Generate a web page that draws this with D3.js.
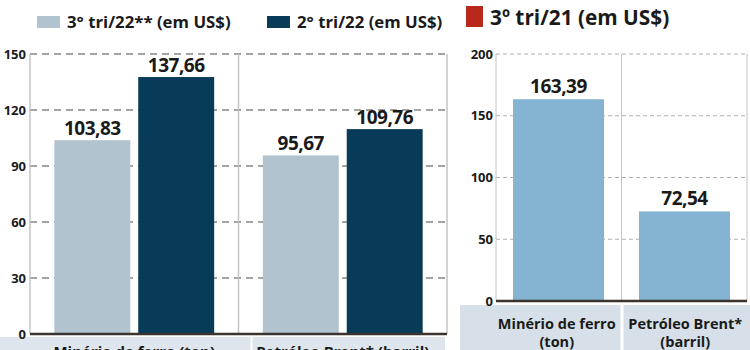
<!DOCTYPE html>
<html><head><meta charset="utf-8">
<script src="https://cdn.jsdelivr.net/npm/d3@7"></script>
<style>body{margin:0;background:#fff}svg{display:block}text{font-family:"Open Sans",sans-serif;font-weight:700;fill:#1a1a1a}</style>
</head><body><svg id="c" width="750" height="350"></svg>
<script>
// ---- data ----
const categories = ["Minério de ferro (ton)", "Petróleo Brent* (barril)"];
const seriesNames = ["3° tri/22** (em US$)", "2° tri/22 (em US$)"];
const q3_22 = [103.83, 95.67];
const q2_22 = [137.66, 109.76];
const leftTicks = [0, 30, 60, 90, 120, 150];

const rightSeriesName = "3º tri/21 (em US$)";
const rightCategories = [["Minério de ferro", "(ton)"], ["Petróleo Brent*", "(barril)"]];
const q3_21 = [163.39, 72.54];
const rightTicks = [0, 50, 100, 150, 200];

const colLight = "#b1c3ce", colDark = "#083b57", colRight = "#84b4d1", colRed = "#b8291b";
const fmt = d3.formatLocale({decimal: ",", thousands: ".", grouping: [3], currency: ["", ""]}).format(".2f");

const svg = d3.select("#c");

// ---- LEFT CHART ----
(function () {
  const L = 30, R = 447, T = 54, B = 334;
  const y = d3.scaleLinear().domain([0, 150]).range([B, T]);
  const x0 = d3.scaleBand().domain(categories).range([L, R]).padding(0);
  const x1 = d3.scaleBand().domain([0, 1]).range([0, x0.bandwidth()]).paddingInner(0.095).paddingOuter(0.29);

  // legend
  const lg = svg.append("g");
  const legX = [37, 267];
  seriesNames.forEach((s, i) => {
    lg.append("rect").attr("x", legX[i]).attr("y", 16).attr("width", 23).attr("height", 12)
      .attr("fill", i === 0 ? colLight : colDark);
    lg.append("text").attr("x", legX[i] + 30).attr("y", 27.5).attr("font-size", 16.8).text(s);
  });

  // category label band
  categories.forEach((c, i) => {
    const bx = i === 0 ? 0 : x0(c) + 14;
    const bw = i === 0 ? x0(c) + x0.bandwidth() + 12 : x0.bandwidth() - 16;
    svg.append("rect").attr("x", bx).attr("y", 337).attr("width", bw).attr("height", 13).attr("fill", "#dfe5ec");
    svg.append("text").attr("x", x0(c) + x0.bandwidth() / 2).attr("y", 357).attr("text-anchor", "middle")
      .attr("font-size", 15).text(c);
  });

  // grid
  svg.append("g").selectAll("line").data(leftTicks.filter(d => d > 0)).join("line")
    .attr("x1", L).attr("x2", R).attr("y1", d => y(d)).attr("y2", d => y(d))
    .attr("stroke", "#a3a3a3").attr("stroke-width", 2).attr("stroke-dasharray", "7,5");
  // vertical separators
  const seps = [L].concat(categories.map(c => x0(c) + x0.bandwidth()));
  svg.append("g").selectAll("line").data(seps).join("line")
    .attr("x1", d => d).attr("x2", d => d).attr("y1", T).attr("y2", B)
    .attr("stroke", "#c4c4c4").attr("stroke-width", 1.5);

  // y axis
  const ya = svg.append("g").attr("transform", `translate(${L - 4},0)`)
    .call(d3.axisLeft(y).tickValues(leftTicks).tickSize(0).tickPadding(0));
  ya.select(".domain").remove();
  ya.selectAll("text").attr("font-size", 13).attr("font-family", "'Open Sans',sans-serif").attr("font-weight", 700).attr("fill", "#1a1a1a");

  // bars
  const data = categories.map((c, i) => ({c, v: [q3_22[i], q2_22[i]]}));
  const g = svg.append("g").selectAll("g").data(data).join("g").attr("transform", d => `translate(${x0(d.c)},0)`);
  g.selectAll("rect").data(d => d.v.map((v, k) => ({v, k}))).join("rect")
    .attr("x", d => x1(d.k)).attr("width", x1.bandwidth())
    .attr("y", d => y(d.v)).attr("height", d => B - y(d.v))
    .attr("fill", d => d.k === 0 ? colLight : colDark);
  g.selectAll("text").data(d => d.v.map((v, k) => ({v, k}))).join("text")
    .attr("x", d => x1(d.k) + x1.bandwidth() / 2).attr("y", d => y(d.v) - 5)
    .attr("text-anchor", "middle").attr("font-size", 19).attr("letter-spacing", -0.5).text(d => fmt(d.v));

  // baseline
  svg.append("line").attr("x1", L).attr("x2", R).attr("y1", B).attr("y2", B)
    .attr("stroke", "#3b332d").attr("stroke-width", 2.5);
})();

// ---- RIGHT CHART ----
(function () {
  const L = 496, R = 747, T = 54, B = 301;
  const y = d3.scaleLinear().domain([0, 200]).range([B, T]);
  const idx = rightCategories.map((d, i) => i);
  const xb = d3.scaleBand().domain(idx).range([L, R]).paddingInner(0.278).paddingOuter(0.135);
  const xs = d3.scaleBand().domain(idx).range([L, R]).padding(0);

  // legend
  svg.append("rect").attr("x", 466).attr("y", 6).attr("width", 17).attr("height", 21).attr("fill", colRed);
  svg.append("text").attr("x", 490).attr("y", 24.5).attr("font-size", 20.8).text(rightSeriesName);

  // label band
  idx.forEach(i => {
    const bx = i === 0 ? 460 : xs(i) + 2;
    const bw = i === 0 ? xs(i) + xs.bandwidth() - 460 - 1 : 750 - xs(i) - 2;
    svg.append("rect").attr("x", bx).attr("y", 305).attr("width", bw).attr("height", 45).attr("fill", "#d7dfe8");
    const cx = xs(i) + xs.bandwidth() / 2 + (i === 0 ? -2 : 1);
    rightCategories[i].forEach((t, k) => {
      svg.append("text").attr("x", cx).attr("y", 329 + k * 18).attr("text-anchor", "middle")
        .attr("font-size", 14.5).text(t);
    });
  });

  // grid
  svg.append("g").selectAll("line").data(rightTicks.filter(d => d > 0)).join("line")
    .attr("x1", L).attr("x2", R).attr("y1", d => y(d)).attr("y2", d => y(d))
    .attr("stroke", "#b0b0b0").attr("stroke-width", 1.2).attr("stroke-dasharray", "4,3");
  const seps = [L].concat(idx.map(i => xs(i) + xs.bandwidth()));
  svg.append("g").selectAll("line").data(seps).join("line")
    .attr("x1", d => d).attr("x2", d => d).attr("y1", T).attr("y2", B)
    .attr("stroke", "#c4c4c4").attr("stroke-width", 1);

  // y axis
  const ya = svg.append("g").attr("transform", `translate(${L - 3},0)`)
    .call(d3.axisLeft(y).tickValues(rightTicks).tickSize(0).tickPadding(0));
  ya.select(".domain").remove();
  ya.selectAll("text").attr("font-size", 13).attr("font-family", "'Open Sans',sans-serif").attr("font-weight", 700).attr("fill", "#1a1a1a");

  // bars
  svg.append("g").selectAll("rect").data(idx).join("rect")
    .attr("x", i => xb(i)).attr("width", xb.bandwidth())
    .attr("y", i => y(q3_21[i])).attr("height", i => B - y(q3_21[i]))
    .attr("fill", colRight);
  svg.append("g").selectAll("text").data(idx).join("text")
    .attr("x", i => xb(i) + xb.bandwidth() / 2).attr("y", i => y(q3_21[i]) - 6)
    .attr("text-anchor", "middle").attr("font-size", 19).attr("letter-spacing", -0.5).text(i => fmt(q3_21[i]));

  svg.append("line").attr("x1", L).attr("x2", R).attr("y1", B).attr("y2", B)
    .attr("stroke", "#3b332d").attr("stroke-width", 2.5);
})();
</script></body></html>
